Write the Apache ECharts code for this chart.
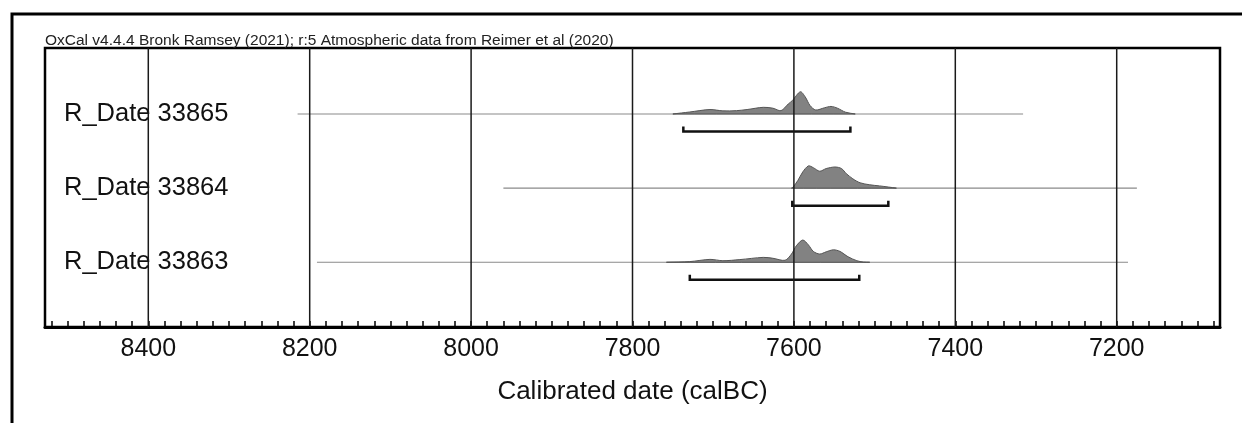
<!DOCTYPE html>
<html>
<head>
<meta charset="utf-8">
<script src="https://cdn.jsdelivr.net/npm/echarts@6/dist/echarts.min.js"></script>
<style>
html,body{margin:0;padding:0;background:#fff;}
#chart{width:1242px;height:423px;}
</style>
</head>
<body>
<div id="chart"></div>
<script>
// ---- data ----
const titleText = 'OxCal v4.4.4 Bronk Ramsey (2021); r:5 Atmospheric data from Reimer et al (2020)';
const axisTitle = 'Calibrated date (calBC)';
const categories = ['R_Date 33865', 'R_Date 33864', 'R_Date 33863'];
const majorTicks = [8400, 8200, 8000, 7800, 7600, 7400, 7200];
const minorTicks = [];
for (let v = 7080; v <= 8520; v += 20) minorTicks.push(v);
const xMin = 7072, xMax = 8528;

// full calibrated range (thin baseline) per date
const rangeStart = [8215, 7960, 8191];
const rangeEnd = [7316, 7175, 7186];
// 95.4% probability range (bracket)
const hpdStart = [7737, 7602, 7729];
const hpdEnd = [7530, 7483, 7519];

// relative probability (peak ~1)
const years33865 = [7750, 7729, 7704, 7688, 7671, 7658, 7638, 7626, 7616, 7607, 7602, 7592, 7586, 7580, 7573, 7562, 7554, 7546, 7536, 7524];
const prob33865 = [0, 0.09, 0.2, 0.14, 0.15, 0.2, 0.3, 0.26, 0.15, 0.45, 0.6, 1.0, 0.77, 0.38, 0.18, 0.28, 0.34, 0.26, 0.08, 0];
const years33864 = [7603, 7601, 7595, 7589, 7582, 7576, 7568, 7560, 7549, 7541, 7535, 7527, 7518, 7506, 7494, 7483, 7473];
const prob33864 = [0, 0.05, 0.35, 0.73, 1.0, 0.92, 0.76, 0.88, 0.95, 0.88, 0.65, 0.42, 0.24, 0.15, 0.1, 0.05, 0];
const years33863 = [7758, 7729, 7704, 7688, 7667, 7638, 7626, 7611, 7603, 7597, 7589, 7582, 7576, 7568, 7560, 7551, 7543, 7533, 7522, 7514, 7506];
const prob33863 = [0, 0.03, 0.13, 0.07, 0.12, 0.22, 0.18, 0.09, 0.37, 0.74, 1.0, 0.78, 0.49, 0.37, 0.47, 0.56, 0.49, 0.25, 0.07, 0.01, 0];

const densities = [
  [years33865, prob33865],
  [years33864, prob33864],
  [years33863, prob33863]
];

// ---- layout constants ----
const ROW0 = 0.89;     // first row baseline in row units (from top)
const Y_MAX = 3.763;   // plot height in row units
const PEAK = 0.30;     // peak height in row units
const BRACKET_DY = 0.236;
const FONT = '"Liberation Sans", Arial, Helvetica, sans-serif';

const chart = echarts.init(document.getElementById('chart'), null, {renderer: 'canvas'});

const series = [];

// baselines + brackets
series.push({
  type: 'custom',
  coordinateSystem: 'cartesian2d',
  z: 2,
  silent: true,
  data: categories.map((c, i) => [rangeStart[i], rangeEnd[i], hpdStart[i], hpdEnd[i], ROW0 + i]),
  encode: {x: [0, 1, 2, 3], y: 4},
  renderItem: function (params, api) {
    const row = api.value(4);
    const a = api.coord([api.value(0), row]);
    const b = api.coord([api.value(1), row]);
    const h1 = api.coord([api.value(2), row + BRACKET_DY]);
    const h2 = api.coord([api.value(3), row + BRACKET_DY]);
    return {
      type: 'group',
      children: [
        {type: 'line', shape: {x1: a[0], y1: a[1], x2: b[0], y2: b[1]},
          style: {stroke: '#8a8a8a', lineWidth: 1.2}},
        {type: 'polyline', shape: {points: [[h1[0], h1[1] - 5], [h1[0], h1[1]], [h2[0], h2[1]], [h2[0], h2[1] - 5]]},
          style: {stroke: '#111', lineWidth: 2.5, fill: null}}
      ]
    };
  }
});

// density polygons
densities.forEach(function (d, i) {
  const yrs = d[0], pr = d[1];
  series.push({
    type: 'custom',
    coordinateSystem: 'cartesian2d',
    z: 3,
    silent: true,
    data: yrs.map((y, k) => [y, pr[k]]),
    encode: {x: 0, y: 1},
    renderItem: function (params, api) {
      if (params.dataIndex !== 0) return null;
      const base = ROW0 + i;
      const pts = [api.coord([yrs[0], base])];
      for (let k = 0; k < yrs.length; k++) pts.push(api.coord([yrs[k], base - pr[k] * PEAK]));
      pts.push(api.coord([yrs[yrs.length - 1], base]));
      return {type: 'polygon', shape: {points: pts, smooth: 0.3},
        style: {fill: '#828282', stroke: '#555', lineWidth: 1}};
    }
  });
});

// vertical grid lines at major ticks
series.push({
  type: 'custom',
  coordinateSystem: 'cartesian2d',
  z: 5,
  silent: true,
  data: majorTicks.map(v => [v, 0]),
  encode: {x: 0, y: 1},
  renderItem: function (params, api) {
    const p1 = api.coord([api.value(0), 0]);
    const p2 = api.coord([api.value(0), Y_MAX]);
    return {type: 'line', shape: {x1: p1[0], y1: p1[1], x2: p2[0], y2: p2[1]},
      style: {stroke: '#1a1a1a', lineWidth: 1.5}};
  }
});

chart.setOption({
  animation: false,
  backgroundColor: '#fff',
  textStyle: {fontFamily: FONT},
  title: {
    text: titleText,
    left: 45, top: 33, padding: 0,
    textStyle: {fontSize: 15.5, fontWeight: 'normal', color: '#222', fontFamily: FONT}
  },
  graphic: [{
    type: 'rect', silent: true, z: 100,
    shape: {x: 12, y: 14, width: 1300, height: 500},
    style: {fill: null, stroke: '#000', lineWidth: 3}
  }],
  grid: {
    show: true, left: 45, right: 22, top: 48, bottom: 96,
    borderColor: '#000', borderWidth: 2.5, backgroundColor: 'transparent'
  },
  xAxis: {
    type: 'value', inverse: true, min: xMin, max: xMax, position: 'bottom',
    name: axisTitle, nameLocation: 'middle', nameGap: 52,
    nameTextStyle: {fontSize: 26, color: '#111', fontFamily: FONT},
    axisLine: {show: true, onZero: false, lineStyle: {color: '#000', width: 3}},
    axisTick: {show: true, inside: true, length: 6, customValues: minorTicks,
      lineStyle: {color: '#000', width: 1.5}},
    axisLabel: {show: true, customValues: majorTicks, fontSize: 25, color: '#111', margin: 10,
      fontFamily: FONT, formatter: function (v) { return String(v); }},
    splitLine: {show: false}
  },
  yAxis: {
    type: 'value', inverse: true, min: 0, max: Y_MAX,
    axisLine: {show: false}, axisTick: {show: false}, splitLine: {show: false},
    axisLabel: {
      show: true, inside: true, margin: 19,
      customValues: categories.map((c, i) => ROW0 + i),
      formatter: function (v) { return categories[Math.round(v - ROW0)] || ''; },
      fontSize: 25.5, color: '#111', fontFamily: FONT, align: 'left'
    }
  },
  series: series
});
</script>
</body>
</html>
